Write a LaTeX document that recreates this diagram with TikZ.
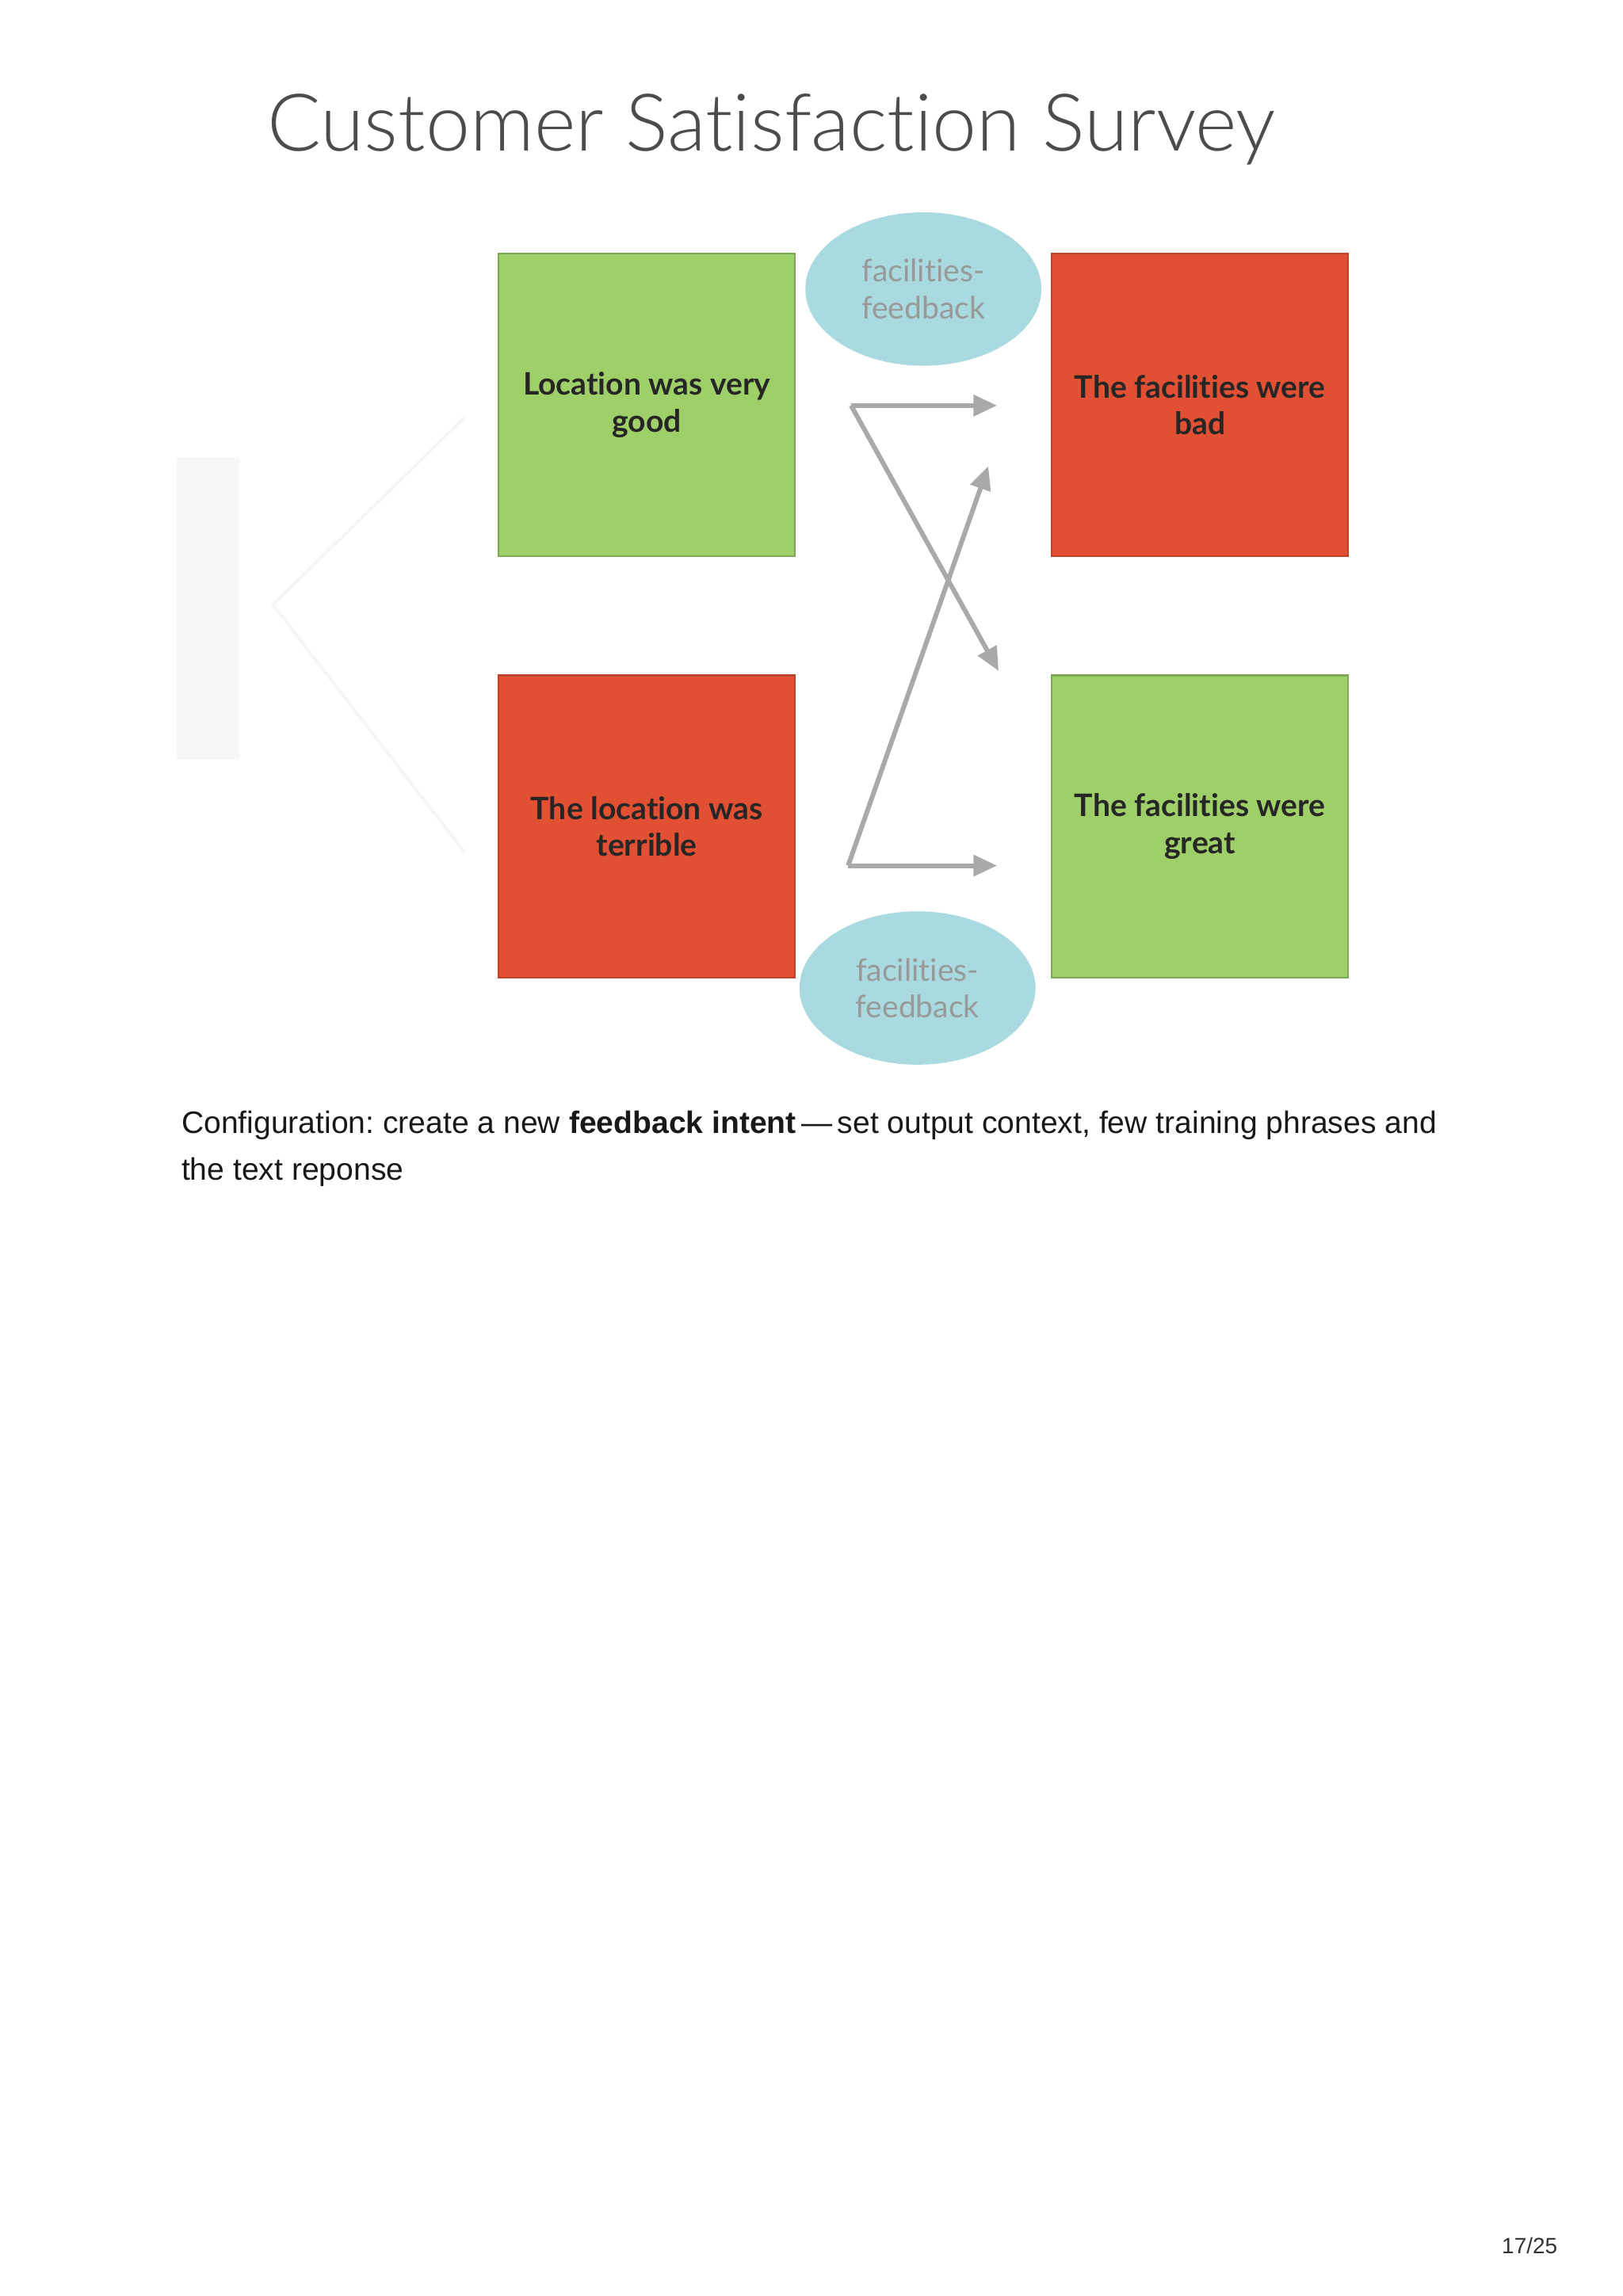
\documentclass[tikz,border=0pt]{standalone}
\usepackage{fontspec}
\setmainfont{Liberation Sans}
\newfontfamily\lato[Ligatures=NoCommon]{Lato}
\newfontfamily\latol[Ligatures=NoCommon]{Lato Light}
\usetikzlibrary{arrows.meta,shapes.geometric}
\definecolor{gbox}{HTML}{9FCF68}
\definecolor{rbox}{HTML}{E25033}
\definecolor{ell}{HTML}{A8DADF}
\definecolor{arr}{HTML}{A9A9A9}
\frenchspacing
\begin{document}
\begin{tikzpicture}[x=0.5pt,y=-0.5pt]
\tikzset{
 boxg/.style={draw=gbox!80!black,fill=gbox,line width=0.6pt,minimum width=100.5pt,minimum height=102.5pt,inner sep=0pt,align=center,font=\lato\bfseries\fontsize{10.5}{12.5}\selectfont,text=black!85},
 boxr/.style={boxg,draw=rbox!85!black,fill=rbox},
 bub/.style={ellipse,fill=ell,minimum width=80pt,minimum height=52pt,inner sep=0pt,align=center,font=\lato\fontsize{10.5}{12.5}\selectfont,text=black!40},
 ar/.style={draw=arr,line width=1.6pt,-{Triangle[length=8pt,width=7pt]}}
}
\useasboundingbox (0,0) rectangle (1100,1557);
\fill[white] (0,0) rectangle (1100,1557);
\node[font=\latol\fontsize{27}{32}\selectfont,text=black!70] (title) at (523,88) {Customer Satisfaction Survey};
% faint left
\fill[black!3] (120,310) rectangle (162,515);
\coordinate (fl) at (185,410);
\coordinate (fa) at (315,283);
\coordinate (fb) at (315,578);
\draw[black!4,line width=1pt] (fa) -- (fl) -- (fb);
\node[boxg] (lg) at (438.5,274.5) {Location was very\\good};
\node[boxr] (fbd) at (813.5,274.5) {The facilities were\\bad};
\node[boxr] (lt) at (438.5,560.5) {The location was\\terrible};
\node[boxg] (fg) at (813.5,560.5) {The facilities were\\great};
\node[bub] (e1) at (626,196) {facilities-\\feedback};
\node[bub] (e2) at (622,670) {facilities-\\feedback};
\coordinate (a1) at (577,275);
\coordinate (a1e) at (676,275);
\coordinate (a2e) at (677,455);
\coordinate (b1) at (575,587);
\coordinate (b1e) at (676,587);
\coordinate (b2e) at (670,316);
\draw[ar] (a1) -- (a1e);
\draw[ar] (a1) -- (a2e);
\draw[ar] (b1) -- (b1e);
\draw[ar] (b1) -- (b2e);
\node[anchor=west,align=left,font=\fontsize{10.5}{16}\selectfont,text=black!90] (cap) at (116,779) {Configuration: create a new \textbf{feedback intent}\,---\,set output context, few training phrases and\\the text reponse};
\node[font=\fontsize{7.5}{9}\selectfont,text=black!80] (pg) at (1037,1523) {17/25};
\end{tikzpicture}
\end{document}
